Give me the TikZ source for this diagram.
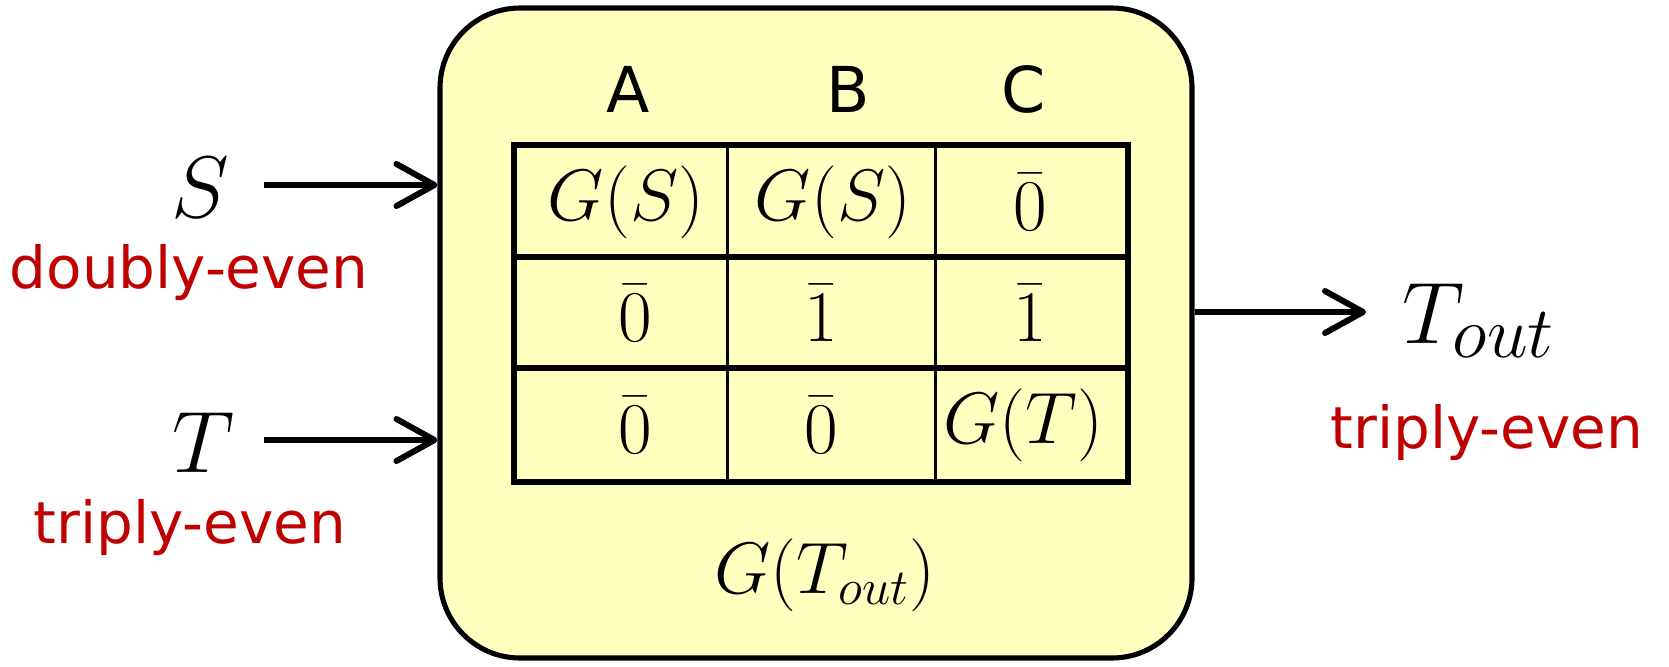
\documentclass[tikz,border=0pt]{standalone}
\usepackage{amsmath,amssymb}
\usepackage{fontspec}
\usepackage{xcolor}
\usepackage{tikz}
\usetikzlibrary{arrows.meta,positioning}
\newfontfamily\handfont{DejaVu Sans}
\definecolor{boxyellow}{RGB}{255,255,192}
\definecolor{evenred}{RGB}{192,0,0}

\begin{document}
\begin{tikzpicture}[
  gadget/.style={draw, line width=1.45pt, fill=boxyellow, rounded corners=0.8cm, minimum width=7.52cm, minimum height=6.5cm, inner sep=0pt},
  bigvar/.style={font=\fontsize{31}{36}\selectfont, inner sep=0pt},
  cell/.style={font=\fontsize{21}{24}\selectfont, inner sep=0pt},
  colhead/.style={font=\handfont\fontsize{18}{20}\selectfont, inner sep=0pt, anchor=base},
  evenness/.style={font=\handfont\fontsize{16.5}{19}\selectfont, text=evenred, inner sep=0pt, anchor=base},
  thickrule/.style={line width=1.45pt},
  thinrule/.style={line width=0.85pt},
  arr/.style={line width=1.7pt, -{Straight Barb[length=3.8mm, width=4.2mm, round]}}
]
\useasboundingbox (0,0) rectangle (16.69,6.66);

% the gadget
\node[gadget] (box) at (8.16,3.33) {};

% table
\draw[thickrule] (5.14,5.21) rectangle (11.28,1.84);
\draw[thickrule] (5.14,4.09) -- (11.28,4.09);
\draw[thickrule] (5.14,2.98) -- (11.28,2.98);
\draw[thinrule] (7.27,5.21) -- (7.27,1.84);
\draw[thinrule] (9.35,5.21) -- (9.35,1.84);

\node[colhead] (ha) at (6.28,5.54) {A};
\node[colhead] (hb) at (8.48,5.54) {B};
\node[colhead] (hc) at (10.24,5.54) {C};

\node[cell] (c11) at (6.26,4.64) {$G(S)$};
\node[cell] (c12) at (8.33,4.64) {$G(S)$};
\node[cell] (c13) at (10.30,4.64) {$\bar{0}$};
\node[cell] (c21) at (6.35,3.53) {$\bar{0}$};
\node[cell] (c22) at (8.21,3.53) {$\bar{1}$};
\node[cell] (c23) at (10.30,3.53) {$\bar{1}$};
\node[cell] (c31) at (6.35,2.41) {$\bar{0}$};
\node[cell] (c32) at (8.21,2.41) {$\bar{0}$};
\node[cell] (c33) at (10.23,2.41) {$G(T)$};

\node[cell] (gout) at (8.25,0.91) {$G(T_{out})$};

% inputs
\node[bigvar, anchor=base] (s) at (2.00,4.49) {$S$};
\node[evenness] (seven) at (1.89,3.78) {doubly-even};
\node[bigvar, anchor=base] (t) at (2.04,1.94) {$T$};
\node[evenness] (teven) at (1.90,1.23) {triply-even};

\coordinate (sin) at (2.64,4.81);
\coordinate (tin) at (2.64,2.26);
\draw[arr] (sin) -- (sin -| box.west);
\draw[arr] (tin) -- (tin -| box.west);

% output
\coordinate (outend) at (13.66,3.54);
\draw[arr] (outend -| box.east) -- (outend);
\node[bigvar, anchor=base west] (tout) at (14.02,3.23) {$T_{\scriptstyle out}$};
\node[evenness] (touteven) at (14.87,2.18) {triply-even};
\end{tikzpicture}
\end{document}
